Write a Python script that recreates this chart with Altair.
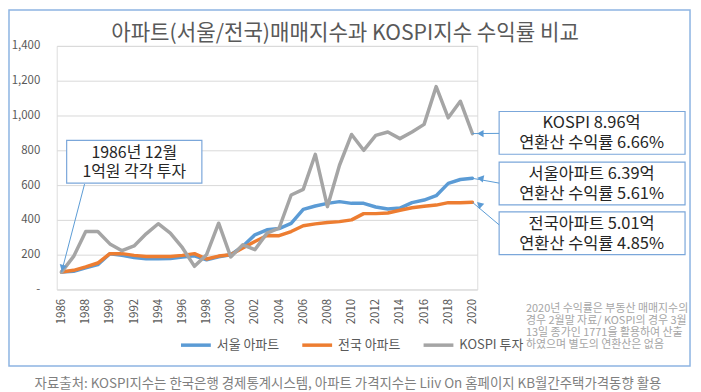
import altair as alt
import pandas as pd

# ---------------- data ----------------
years = list(range(1986, 2021))
seoul = [100, 105, 124, 143, 205, 196, 184, 176, 176, 178, 186, 194, 171, 188, 200,
         248, 314, 343, 350, 380, 460, 480, 495, 505, 495, 495, 474, 463, 468, 499,
         514, 539, 610, 632, 639]
nation = [100, 110, 130, 152, 206, 206, 196, 190, 190, 190, 196, 206, 175, 192, 200,
          238, 276, 310, 309, 333, 366, 377, 385, 390, 400, 436, 436, 440, 455, 470,
          478, 485, 499, 499, 501]
kospi = [100, 190, 333, 333, 262, 223, 250, 320, 378, 324, 240, 133, 200, 381, 187,
         257, 229, 324, 352, 543, 575, 777, 476, 714, 891, 800, 886, 905, 867, 905,
         949, 1166, 987, 1082, 896]
series_names = ["서울 아파트", "전국 아파트", "KOSPI 투자"]
series_colors = ["#5B9BD5", "#ED7D31", "#A5A5A5"]
y_ticks = [0, 200, 400, 600, 800, 1000, 1200, 1400]
x_ticks = list(range(1986, 2021, 2))

title_text = "아파트(서울/전국)매매지수과 KOSPI지수 수익률 비교"
start_note = ["1986년 12월", "1억원 각각 투자"]
kospi_note = ["KOSPI 8.96억", "연환산 수익률 6.66%"]
seoul_note = ["서울아파트 6.39억", "연환산 수익률 5.61%"]
nation_note = ["전국아파트 5.01억", "연환산 수익률 4.85%"]
foot_note = ["2020년 수익률은 부동산 매매지수의",
             "경우 2월말 자료/ KOSPI의 경우 3월",
             "13일 종가인 1771을 활용하여 산출",
             "하였으며 별도의 연환산은 없음"]
source_text = "자료출처: KOSPI지수는 한국은행 경제통계시스템, 아파트 가격지수는 Liiv On 홈페이지 KB월간주택가격동향 활용"

FONT = "Noto Sans CJK KR"
GREY_TXT = "#595959"
ARROW = "#5B9BD5"
BOX = "#7BA7DA"

df = pd.DataFrame({
    "year": years * 3,
    "value": seoul + nation + kospi,
    "series": [series_names[0]] * len(years) + [series_names[1]] * len(years) + [series_names[2]] * len(years),
})

x_enc = alt.X("year:Q",
              scale=alt.Scale(domain=[1985.6, 2020.4], nice=False, zero=False),
              axis=alt.Axis(values=x_ticks, format="d", labelAngle=-90, title=None,
                            grid=False, ticks=False, domain=False, labelPadding=9,
                            labelOverlap=False, labelBound=False, labelFlush=False,
                            labelFontSize=11.5, labelColor=GREY_TXT, labelFont=FONT))
y_enc = alt.Y("value:Q",
              scale=alt.Scale(domain=[0, 1400], nice=False),
              axis=alt.Axis(values=y_ticks, title=None, ticks=False, domain=False,
                            labelOverlap=False, labelBound=False, labelFlush=False,
                            labelExpr="datum.value == 0 ? '-' : format(datum.value, ',')",
                            gridColor="#D9D9D9", gridWidth=1, labelPadding=17,
                            labelFontSize=11.5, labelColor=GREY_TXT, labelFont=FONT))
color_enc = alt.Color("series:N",
                      scale=alt.Scale(domain=series_names, range=series_colors),
                      legend=alt.Legend(title=None, orient="none", legendX=123, legendY=284,
                                        direction="horizontal", symbolType="stroke",
                                        symbolSize=900, symbolStrokeWidth=3.5,
                                        labelFontSize=13, labelColor=GREY_TXT, labelFont=FONT,
                                        columnPadding=16, labelOffset=4, padding=0))

one = pd.DataFrame({"k": [0]})


def frame(x1, y1, x2, y2, stroke, sw, fill):
    return alt.Chart(one).mark_rect(fill=fill, stroke=stroke, strokeWidth=sw).encode(
        x=alt.value(x1), x2=alt.value(x2), y=alt.value(y1), y2=alt.value(y2))


def text(t, x, y, size, color, align="center"):
    return alt.Chart(pd.DataFrame({"t": [t]})).mark_text(
        font=FONT, fontSize=size, color=color, align=align, baseline="middle").encode(
        text="t:N", x=alt.value(x), y=alt.value(y))


def arrow(yr, val, sx, sy, angle, dx, dy):
    d = pd.DataFrame({"year": [yr], "value": [val]})
    r = alt.Chart(d).mark_rule(color=ARROW, strokeWidth=1).encode(
        x=x_enc, y=y_enc, x2=alt.value(sx), y2=alt.value(sy))
    p = alt.Chart(d).mark_point(shape="triangle-up", filled=True, size=55, opacity=1,
                                color=ARROW, angle=angle, xOffset=dx, yOffset=dy).encode(
        x=x_enc, y=y_enc)
    return [r, p]


lines = [
    alt.Chart(df[df.series == s]).mark_line(strokeWidth=3.5, strokeJoin="round", strokeCap="round").encode(
        x=x_enc, y=y_enc, color=color_enc)
    for s in series_names
]

layers = list(lines)
layers.append(frame(-48, -36, 637, 322, "#8DB4E2", 1.5, "transparent"))
layers.append(text(title_text, 290, -12, 21.3, GREY_TXT))

# annotation boxes
layers.append(frame(10, 95, 146, 138, BOX, 1.2, "white"))
layers.append(text(start_note[0], 78, 108, 16, "#262626"))
layers.append(text(start_note[1], 78, 127, 16, "#262626"))
layers += arrow(years[0], kospi[0], 28, 139, 194.6, 1, -4)

for note, top in [(kospi_note, 66), (seoul_note, 117), (nation_note, 167)]:
    layers.append(frame(445, top, 632, top + 43, BOX, 1.2, "white"))
    layers.append(text(note[0], 538, top + 12, 16.5, "#262626"))
    layers.append(text(note[1], 538, top + 32, 16.5, "#262626"))

layers += arrow(years[-1], kospi[-1], 445, 88, 270, 8, 0)
layers += arrow(years[-1], seoul[-1], 445, 138, 282, 8, 0)
layers += arrow(years[-1], nation[-1], 445, 180, 314, 7, 2)

for i, line in enumerate(foot_note):
    layers.append(text(line, 472, 265 + i * 12, 11, "#A6A6A6", align="left"))

layers.append(text(source_text, 293, 340, 13.5, "#7F7F7F"))

chart = alt.layer(*layers).properties(
    width=423, height=245,
    padding={"left": 49, "top": 37, "right": 217, "bottom": 102},
    autosize=alt.AutoSizeParams(type="none"),
).configure_view(stroke=None).configure_axis(labelOverlap=False).configure(background="white")

chart.save("out.html", embed_options={"renderer": "svg", "actions": False})
